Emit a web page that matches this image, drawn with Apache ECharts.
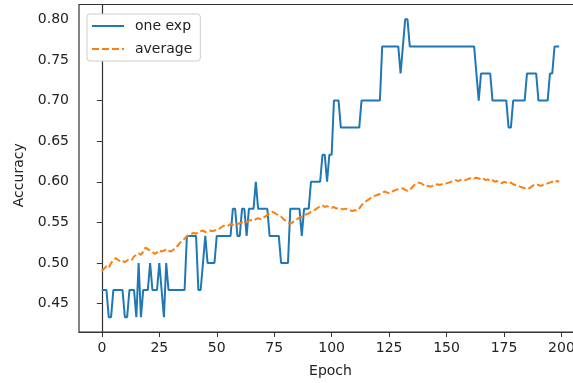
<!doctype html>
<html>

<head>
	<meta charset="utf-8">
	<script src="https://cdn.jsdelivr.net/npm/echarts@6/dist/echarts.min.js"></script>
	<style>
		html, body { margin: 0; padding: 0; background: #fff; overflow: hidden; }
		/* plot area runs past the right edge of the window, like the cropped original */
		#chart { width: 600px; height: 383px; }
	</style>
</head>

<body>
	<div id="chart"></div>
</body>
<script type="text/javascript">
	var seriesNames = ['one exp', 'average'];
	var xTicks = [0, 25, 50, 75, 100, 125, 150, 175, 200];
	var yTicks = [0.45, 0.50, 0.55, 0.60, 0.65, 0.70, 0.75, 0.80];

	// accuracy of one run, per epoch (0..199)
	var oneExp = [
		0.4667, 0.4667, 0.4667, 0.4333, 0.4333, 0.4667, 0.4667, 0.4667, 0.4667, 0.4667,
		0.4333, 0.4333, 0.4667, 0.4667, 0.4667, 0.4333, 0.5000, 0.4333, 0.4667, 0.4667,
		0.4667, 0.5000, 0.4667, 0.4667, 0.4667, 0.5000, 0.4667, 0.4333, 0.5000, 0.4667,
		0.4667, 0.4667, 0.4667, 0.4667, 0.4667, 0.4667, 0.4667, 0.5333, 0.5333, 0.5333,
		0.5333, 0.5333, 0.4667, 0.4667, 0.5000, 0.5333, 0.5000, 0.5000, 0.5000, 0.5000,
		0.5333, 0.5333, 0.5333, 0.5333, 0.5333, 0.5333, 0.5333, 0.5667, 0.5667, 0.5333,
		0.5333, 0.5667, 0.5667, 0.5333, 0.5667, 0.5667, 0.5667, 0.6000, 0.5667, 0.5667,
		0.5667, 0.5667, 0.5667, 0.5333, 0.5333, 0.5333, 0.5333, 0.5333, 0.5000, 0.5000,
		0.5000, 0.5000, 0.5667, 0.5667, 0.5667, 0.5667, 0.5667, 0.5333, 0.5667, 0.5667,
		0.5667, 0.6000, 0.6000, 0.6000, 0.6000, 0.6000, 0.6333, 0.6333, 0.6000, 0.6333,
		0.6333, 0.7000, 0.7000, 0.7000, 0.6667, 0.6667, 0.6667, 0.6667, 0.6667, 0.6667,
		0.6667, 0.6667, 0.6667, 0.7000, 0.7000, 0.7000, 0.7000, 0.7000, 0.7000, 0.7000,
		0.7000, 0.7000, 0.7667, 0.7667, 0.7667, 0.7667, 0.7667, 0.7667, 0.7667, 0.7667,
		0.7333, 0.7667, 0.8000, 0.8000, 0.7667, 0.7667, 0.7667, 0.7667, 0.7667, 0.7667,
		0.7667, 0.7667, 0.7667, 0.7667, 0.7667, 0.7667, 0.7667, 0.7667, 0.7667, 0.7667,
		0.7667, 0.7667, 0.7667, 0.7667, 0.7667, 0.7667, 0.7667, 0.7667, 0.7667, 0.7667,
		0.7667, 0.7667, 0.7667, 0.7333, 0.7000, 0.7333, 0.7333, 0.7333, 0.7333, 0.7333,
		0.7000, 0.7000, 0.7000, 0.7000, 0.7000, 0.7000, 0.7000, 0.6667, 0.6667, 0.7000,
		0.7000, 0.7000, 0.7000, 0.7000, 0.7000, 0.7333, 0.7333, 0.7333, 0.7333, 0.7333,
		0.7000, 0.7000, 0.7000, 0.7000, 0.7000, 0.7333, 0.7333, 0.7667, 0.7667, 0.7667
	];

	// running average over experiments, per epoch (0..199)
	var average = [
		0.490, 0.493, 0.496, 0.494, 0.500, 0.503, 0.506, 0.504, 0.502, 0.503,
		0.501, 0.503, 0.505, 0.504, 0.508, 0.510, 0.512, 0.510, 0.514, 0.519,
		0.517, 0.515, 0.514, 0.511, 0.513, 0.516, 0.514, 0.515, 0.517, 0.515,
		0.514, 0.516, 0.519, 0.521, 0.525, 0.527, 0.530, 0.533, 0.535, 0.536,
		0.537, 0.536, 0.538, 0.539, 0.540, 0.538, 0.539, 0.540, 0.539, 0.540,
		0.541, 0.542, 0.544, 0.546, 0.545, 0.546, 0.548, 0.547, 0.549, 0.548,
		0.549, 0.550, 0.551, 0.550, 0.552, 0.553, 0.552, 0.554, 0.555, 0.554,
		0.556, 0.557, 0.559, 0.561, 0.563, 0.562, 0.560, 0.559, 0.557, 0.554,
		0.552, 0.550, 0.548, 0.550, 0.553, 0.554, 0.556, 0.557, 0.558, 0.560,
		0.561, 0.563, 0.564, 0.566, 0.568, 0.570, 0.571, 0.569, 0.570, 0.569,
		0.568, 0.569, 0.567, 0.568, 0.567, 0.566, 0.567, 0.566, 0.565, 0.564,
		0.565, 0.564, 0.567, 0.571, 0.574, 0.576, 0.578, 0.580, 0.582, 0.583,
		0.584, 0.585, 0.586, 0.588, 0.587, 0.586, 0.587, 0.589, 0.590, 0.591,
		0.591, 0.592, 0.590, 0.589, 0.590, 0.593, 0.596, 0.598, 0.599, 0.598,
		0.596, 0.594, 0.595, 0.594, 0.595, 0.596, 0.597, 0.596, 0.597, 0.598,
		0.598, 0.599, 0.600, 0.601, 0.602, 0.601, 0.602, 0.603, 0.602, 0.603,
		0.604, 0.605, 0.604, 0.605, 0.604, 0.603, 0.604, 0.602, 0.603, 0.601,
		0.602, 0.600, 0.601, 0.599, 0.598, 0.600, 0.599, 0.598, 0.599, 0.597,
		0.596, 0.595, 0.594, 0.593, 0.592, 0.593, 0.592, 0.594, 0.596, 0.597,
		0.596, 0.595, 0.596, 0.597, 0.598, 0.599, 0.600, 0.599, 0.601, 0.600
	];

	function toPairs(values) {
		return values.map(function(v, i) { return [i, v]; });
	}

	var font = 'DejaVu Sans';
	var axisColor = '#333';

	var myChart = echarts.init(document.getElementById('chart'));
	var option = {
		animation: false,
		textStyle: { fontFamily: font },
		grid: {
			left: 79,
			top: 4.5,
			width: 503,
			height: 328,
			show: true,
			borderColor: axisColor,
			borderWidth: 1.2,
			backgroundColor: 'transparent'
		},
		legend: {
			orient: 'vertical',
			left: 87,
			top: 14,
			data: seriesNames,
			itemWidth: 32,
			itemHeight: 14,
			itemGap: 9,
			padding: [5, 8, 5, 4],
			backgroundColor: '#fff',
			borderColor: '#ccc',
			borderWidth: 1,
			borderRadius: 3,
			itemStyle: { opacity: 0 }, // line only, no marker
			textStyle: { fontFamily: font, fontSize: 14, color: '#222', padding: [0, 0, 0, 6] }
		},
		xAxis: {
			type: 'value',
			min: -9.95,
			max: 208.95,
			name: 'Epoch',
			nameLocation: 'middle',
			nameGap: 32,
			nameTextStyle: { fontFamily: font, fontSize: 14, color: '#222' },
			splitLine: { show: false },
			axisLine: { show: true, lineStyle: { color: axisColor, width: 1.2 } },
			axisTick: { show: true, length: 5, customValues: xTicks, lineStyle: { color: axisColor } },
			axisLabel: {
				customValues: xTicks,
				margin: 9,
				fontFamily: font,
				fontSize: 14,
				color: '#222'
			}
		},
		yAxis: {
			type: 'value',
			min: 0.415,
			max: 0.8183,
			name: 'Accuracy',
			nameLocation: 'middle',
			nameGap: 53,
			nameTextStyle: { fontFamily: font, fontSize: 14, color: '#222', padding: [0, 14, 0, 0] },
			splitLine: { show: false },
			axisLine: { show: true, lineStyle: { color: axisColor, width: 1.2 } },
			axisTick: { show: true, length: 5, customValues: yTicks, lineStyle: { color: axisColor } },
			axisLabel: {
				customValues: yTicks,
				margin: 10,
				fontFamily: font,
				fontSize: 14,
				color: '#222',
				formatter: function(value) {
					return value.toFixed(2);
				}
			}
		},
		series: [{
			name: seriesNames[0],
			type: 'line',
			data: toPairs(oneExp),
			showSymbol: false,
			symbol: 'none',
			lineStyle: { color: '#1f77b4', width: 2 },
			itemStyle: { color: '#1f77b4' }
		}, {
			name: seriesNames[1],
			type: 'line',
			data: toPairs(average),
			showSymbol: false,
			symbol: 'none',
			lineStyle: { color: '#ff7f0e', width: 2, type: [7, 3] },
			itemStyle: { color: '#ff7f0e' }
		}]
	};
	myChart.setOption(option);
</script>

</html>
